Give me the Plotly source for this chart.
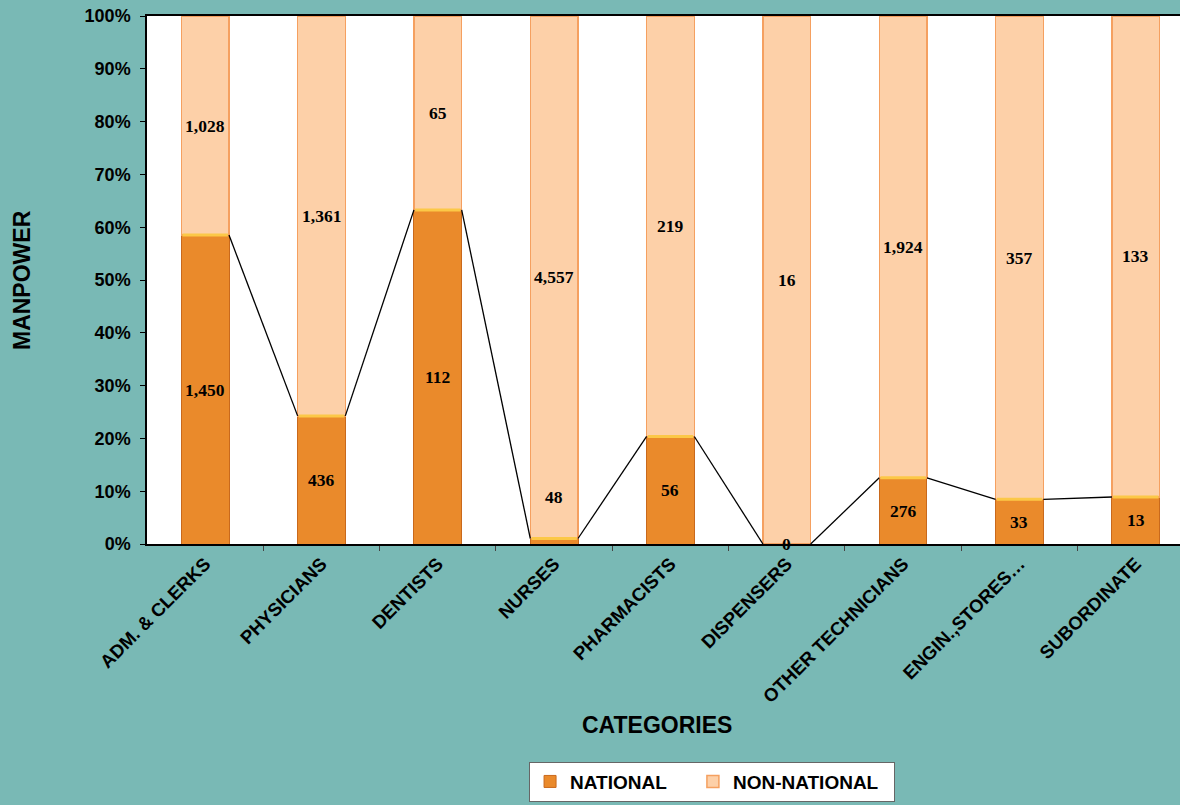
import plotly.graph_objects as go

categories = ["ADM. & CLERKS", "PHYSICIANS", "DENTISTS", "NURSES", "PHARMACISTS",
              "DISPENSERS", "OTHER TECHNICIANS", "ENGIN.,STORES\u2026", "SUBORDINATE"]
national = [1450, 436, 112, 48, 56, 0, 276, 33, 13]
non_national = [1028, 1361, 65, 4557, 219, 16, 1924, 357, 133]

totals = [a + b for a, b in zip(national, non_national)]
nat_pct = [a / t for a, t in zip(national, totals)]
non_pct = [b / t for b, t in zip(non_national, totals)]
xs = list(range(len(categories)))
W = 0.41

fig = go.Figure()
fig.add_trace(go.Bar(x=xs, y=nat_pct, width=W, name="NATIONAL\u00a0\u00a0\u00a0\u00a0",
                     marker=dict(color="#ea8a2b", line=dict(color="#c9691c", width=1))))
fig.add_trace(go.Bar(x=xs, y=non_pct, width=W, name="NON-NATIONAL\u00a0\u00a0",
                     marker=dict(color="#fdd0a8", line=dict(color="#f5a060", width=1.5))))

# yellow highlight on top of national segments
cx, cy = [], []
for i in xs:
    if national[i] > 0:
        cx += [xs[i] - W / 2 + 0.01, xs[i] + W / 2 - 0.01, None]
        cy += [nat_pct[i], nat_pct[i], None]
fig.add_trace(go.Scatter(x=cx, y=cy, mode="lines", line=dict(color="#fcc847", width=3),
                         showlegend=False, hoverinfo="skip"))

# series lines between national tops
lx, ly = [], []
for i in range(len(xs) - 1):
    lx += [xs[i] + W / 2, xs[i + 1] - W / 2, None]
    ly += [nat_pct[i], nat_pct[i + 1], None]
fig.add_trace(go.Scatter(x=lx, y=ly, mode="lines", line=dict(color="black", width=1.3),
                         showlegend=False, hoverinfo="skip"))

# value labels
nat_y = [p / 2 for p in nat_pct]
nat_shift = [0, 0, 0, 44, 0, 0, 0, 0, 0]
non_y = [n + q / 2 for n, q in zip(nat_pct, non_pct)]
lab_font = dict(family="Liberation Serif", size=17.5, color="black", weight="bold")
for i in xs:
    fig.add_annotation(x=i, y=nat_y[i], text=f"{national[i]:,}", showarrow=False,
                       yshift=nat_shift[i], font=lab_font)
    fig.add_annotation(x=i, y=non_y[i], text=f"{non_national[i]:,}", showarrow=False,
                       font=lab_font)

fig.add_annotation(xref="paper", yref="paper", x=-0.121, xanchor="center", y=0.5, yanchor="middle",
                   text="MANPOWER", textangle=-90, showarrow=False,
                   font=dict(family="Liberation Sans", size=23, color="black", weight="bold"))
fig.add_annotation(xref="paper", yref="paper", x=0.494, xanchor="center", y=-0.343, yanchor="middle",
                   text="CATEGORIES", showarrow=False,
                   font=dict(family="Liberation Sans", size=23, color="black", weight="bold"))

fig.update_layout(
    width=1180, height=805,
    barmode="stack",
    paper_bgcolor="#79b9b5",
    plot_bgcolor="white",
    margin=dict(l=147, r=0, t=16, b=261),
    showlegend=True,
    legend=dict(orientation="h", x=0.547, xanchor="center", y=-0.45, yanchor="middle",
                traceorder="normal",
                bgcolor="white", bordercolor="#666666", borderwidth=1,
                font=dict(family="Liberation Sans", size=19, color="black", weight="bold"),
                itemwidth=30),
    xaxis=dict(range=[-0.5, 8.38], tickmode="array", tickvals=xs, ticktext=categories,
               tickangle=-45, ticks="", showline=True, linecolor="black", linewidth=1.5,
               mirror=True, showgrid=False, zeroline=False,
               tickfont=dict(family="Liberation Sans", size=18.5, color="black", weight="bold"),
               minor=dict(tickvals=[i + 0.5 for i in xs], ticks="outside", ticklen=5,
                          tickcolor="#444444", showgrid=False)),
    yaxis=dict(range=[0, 1], tickformat=".0%", dtick=0.1, ticks="outside", ticklen=5,
               tickcolor="black", showline=True, linecolor="black", linewidth=1.5,
               showgrid=False, zeroline=False, ticklabelstandoff=6,
               tickfont=dict(family="Liberation Sans", size=18, color="black", weight="bold")),
)

fig.write_html("out.html", config={"displayModeBar": False},
               post_script="document.body.style.margin='0';document.body.style.background='#79b9b5';")
